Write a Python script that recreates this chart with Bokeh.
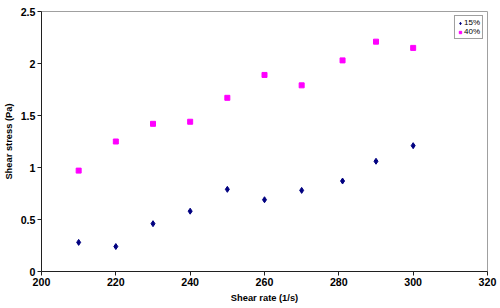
from bokeh.plotting import figure
from bokeh.models import Range1d, FixedTicker, Legend, LegendItem
from bokeh.embed import file_html
from bokeh.resources import INLINE

shear_rate_15 = [210, 220, 230, 240, 250, 260, 270, 281, 290, 300]
stress_15 = [0.28, 0.24, 0.46, 0.58, 0.79, 0.69, 0.78, 0.87, 1.06, 1.21]
shear_rate_40 = [210, 220, 230, 240, 250, 260, 270, 281, 290, 300]
stress_40 = [0.97, 1.25, 1.42, 1.44, 1.67, 1.89, 1.79, 2.03, 2.21, 2.15]
x_ticks = [200, 220, 240, 260, 280, 300, 320]
y_ticks = [0, 0.5, 1, 1.5, 2, 2.5]
y_labels = {0: "0", 0.5: "0.5", 1: "1", 1.5: "1.5", 2: "2", 2.5: "2.5"}

p = figure(width=500, height=308, output_backend="svg", toolbar_location=None,
           x_range=Range1d(200, 320), y_range=Range1d(0, 2.5),
           min_border_left=36, min_border_right=13, min_border_top=11, min_border_bottom=37)
p.background_fill_color = "white"
p.border_fill_color = "white"
p.outline_line_color = "#a0a0a0"
p.outline_line_width = 1
p.xgrid.visible = False
p.ygrid.visible = False

FONT = "Liberation Sans"
for ax in (p.xaxis[0], p.yaxis[0]):
    ax.axis_line_color = "#202020"
    ax.major_tick_line_color = "#202020"
    ax.major_tick_out = 4
    ax.major_tick_in = 0
    ax.minor_tick_out = 0
    ax.minor_tick_in = 0
    ax.major_label_text_font = FONT
    ax.major_label_text_font_style = "bold"
    ax.major_label_text_font_size = "8pt"
    ax.major_label_text_color = "black"
    ax.axis_label_text_font = FONT
    ax.axis_label_text_font_style = "bold"
    ax.axis_label_text_font_size = "7pt"
    ax.axis_label_text_color = "black"

p.xaxis.ticker = FixedTicker(ticks=x_ticks)
p.yaxis.ticker = FixedTicker(ticks=y_ticks)
p.yaxis.major_label_overrides = y_labels
p.xaxis.axis_label = "Shear rate (1/s)"
p.yaxis.axis_label = "Shear stress (Pa)"
p.xaxis.major_label_standoff = 2
p.xaxis.axis_label_standoff = 4
p.yaxis.major_label_standoff = 2
p.yaxis.axis_label_standoff = 4

r1 = p.scatter(shear_rate_15, stress_15, marker="diamond", size=6,
               fill_color="#000080", line_color="#000080")
r2 = p.scatter(shear_rate_40, stress_40, marker="square", size=5,
               fill_color="#ff00ff", line_color="#ff00ff")

legend = Legend(items=[LegendItem(label="15%", renderers=[r1]),
                       LegendItem(label="40%", renderers=[r2])],
                location="top_right")
legend.label_text_font = FONT
legend.label_text_font_size = "6pt"
legend.label_text_color = "black"
legend.glyph_width = 6
legend.glyph_height = 8
legend.label_height = 8
legend.label_width = 10
legend.label_standoff = 1
legend.spacing = 0
legend.padding = 2
legend.margin = 4
legend.border_line_color = "#404040"
legend.border_line_width = 1
legend.background_fill_color = "white"
p.add_layout(legend)

open("out.html", "w").write(file_html(p, INLINE))
